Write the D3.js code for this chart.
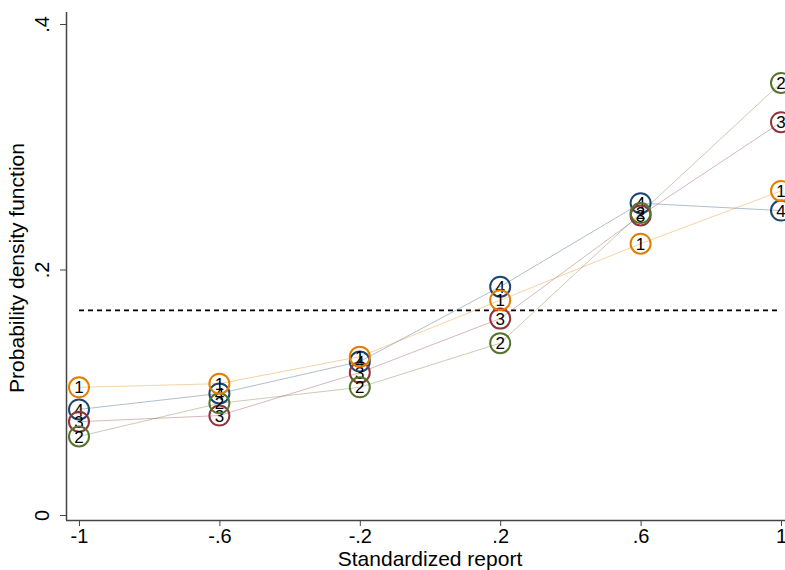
<!DOCTYPE html>
<html>
<head>
<meta charset="utf-8">
<script src="https://cdn.jsdelivr.net/npm/d3@7"></script>
<style>
body { margin: 0; background: #fff; }
text { font-family: "Liberation Sans", Arial, sans-serif; }
</style>
</head>
<body>
<div id="chart-area"></div>
<script>
// reports on the x axis
var reports = [-1, -0.6, -0.2, 0.2, 0.6, 1];
var xTicks = ["-1", "-.6", "-.2", ".2", ".6", "1"];
var yTicks = [0, 0.2, 0.4];
var yTickLabels = ["0", ".2", ".4"];
var uniform = 1 / 6;

// one array per group, labelled 1..4
var series1 = [0.104, 0.107, 0.129, 0.175, 0.221, 0.264];
var series2 = [0.064, 0.091, 0.104, 0.140, 0.246, 0.352];
var series3 = [0.076, 0.081, 0.116, 0.160, 0.244, 0.320];
var series4 = [0.086, 0.099, 0.125, 0.186, 0.254, 0.248];

var groups = [
    { name: "4", values: series4, color: "#1a476f" },
    { name: "3", values: series3, color: "#90353b" },
    { name: "2", values: series2, color: "#55752f" },
    { name: "1", values: series1, color: "#e37e00" }
];

var width = 785, height = 570;

var svg = d3.select("#chart-area").append("svg")
    .attr("width", width)
    .attr("height", height);

var x = d3.scaleLinear()
    .domain([-1, 1])
    .range([79, 781]);

var y = d3.scaleLinear()
    .domain([0, 0.4])
    .range([515, 24]);

// axes
var bottomAxis = d3.axisBottom(x)
    .tickValues(reports)
    .tickFormat((d, i) => xTicks[i])
    .tickSize(6)
    .tickSizeOuter(0);

var gx = svg.append("g")
    .attr("transform", "translate(0, 520)")
    .call(bottomAxis);
gx.select(".domain").attr("d", "M66,0.5H785").attr("stroke", "#444").attr("stroke-width", 1.5);
gx.selectAll(".tick line").attr("stroke", "#444");
gx.selectAll(".tick text")
    .attr("font-size", "20px")
    .attr("fill", "#000")
    .attr("y", 9);

var leftAxis = d3.axisLeft(y)
    .tickValues(yTicks)
    .tickFormat((d, i) => yTickLabels[i])
    .tickSize(6)
    .tickSizeOuter(0);

var gy = svg.append("g")
    .attr("transform", "translate(66, 0)")
    .call(leftAxis);
gy.select(".domain").attr("d", "M0.5,12V520").attr("stroke", "#444").attr("stroke-width", 1.5);
gy.selectAll(".tick line").attr("stroke", "#444");
gy.selectAll(".tick text")
    .attr("font-size", "20px")
    .attr("fill", "#000")
    .attr("x", 0)
    .attr("y", 0)
    .attr("dy", 0)
    .attr("text-anchor", "middle")
    .attr("transform", "translate(-17, 0) rotate(-90)");

// uniform reference line
svg.append("line")
    .attr("x1", x(-1))
    .attr("x2", x(1))
    .attr("y1", y(uniform))
    .attr("y2", y(uniform))
    .attr("stroke", "#000")
    .attr("stroke-width", 1.6)
    .attr("stroke-dasharray", "5,4");

var line = d3.line()
    .x((d, i) => x(reports[i]))
    .y((d) => y(d));

svg.selectAll(".series-line")
    .data(groups)
    .enter()
    .append("path")
        .attr("class", "series-line")
        .attr("d", (d) => line(d.values))
        .attr("fill", "none")
        .attr("stroke", (d) => d.color)
        .attr("stroke-opacity", 0.35)
        .attr("stroke-width", 1);

var markers = svg.selectAll(".group")
    .data(groups)
    .enter()
    .append("g")
        .attr("class", "group");

markers.each(function(g) {
    var sel = d3.select(this).selectAll("g")
        .data(g.values)
        .enter()
        .append("g")
            .attr("transform", (d, i) => "translate(" + x(reports[i]) + "," + y(d) + ")");
    sel.append("circle")
        .attr("r", 10)
        .attr("fill", "none")
        .attr("stroke", g.color)
        .attr("stroke-width", 2);
    sel.append("text")
        .attr("text-anchor", "middle")
        .attr("dy", "0.36em")
        .attr("font-size", "17px")
        .attr("fill", "#000")
        .text(g.name);
});

svg.append("text")
    .attr("x", 430)
    .attr("y", 566)
    .attr("text-anchor", "middle")
    .attr("font-size", "21px")
    .text("Standardized report");

svg.append("text")
    .attr("transform", "translate(24, 268) rotate(-90)")
    .attr("text-anchor", "middle")
    .attr("font-size", "21px")
    .text("Probability density function");
</script>
</body>
</html>
